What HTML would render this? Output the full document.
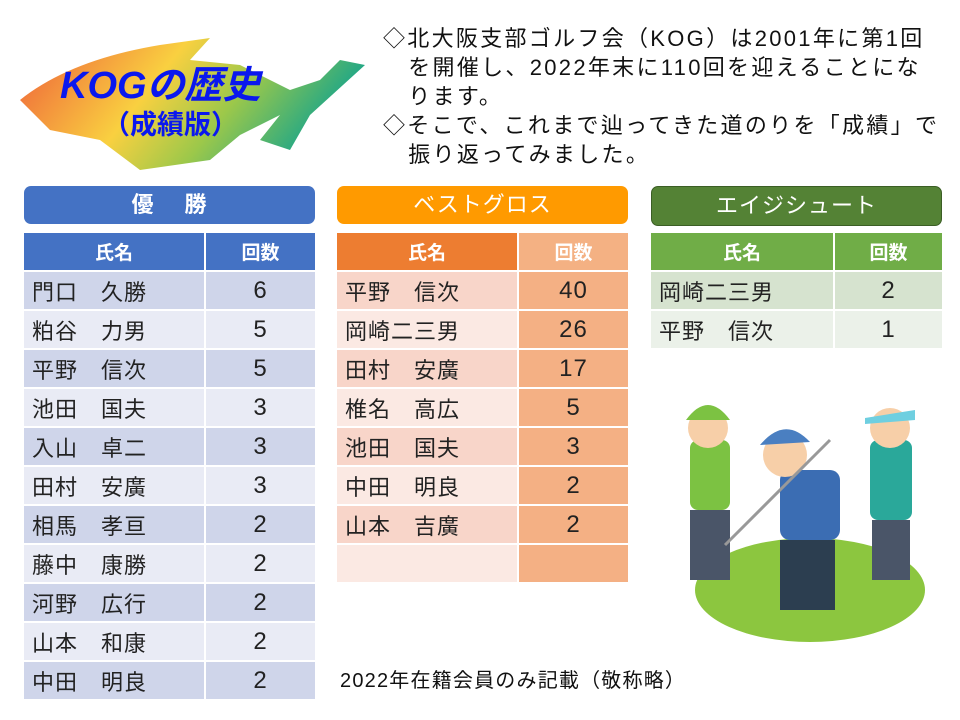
<!DOCTYPE html>
<html><head><meta charset="utf-8"><style>
body{margin:0;width:960px;height:720px;background:#fff;position:relative;overflow:hidden;font-family:"Liberation Sans","Noto Sans CJK JP",sans-serif;color:#222}
.a{position:absolute}
.cap{position:absolute;height:38px;border-radius:7px;color:#fff;font-size:22px;text-align:center;line-height:38px;font-weight:bold;letter-spacing:1px}
table{position:absolute;border-collapse:collapse}
tr{height:39px}
td{border:2px solid #fff;font-size:22px;padding:0 0 0 8px;color:#222;letter-spacing:1px}
td.n{text-align:center;padding:0;font-size:24px}
th{border:2px solid #fff;color:#fff;font-size:19px;font-weight:bold;padding:0}
.p{position:absolute;font-size:22px;line-height:29px;color:#111;letter-spacing:2.3px;white-space:nowrap}
</style></head><body>
<svg class="a" style="left:10px;top:20px" width="360" height="150">
<defs><linearGradient id="g" x1="0" y1="0" x2="1" y2="0.3"><stop offset="0" stop-color="#ee5a3a"/><stop offset="0.45" stop-color="#f9d040"/><stop offset="0.7" stop-color="#9cc84a"/><stop offset="1" stop-color="#19a58a"/></linearGradient></defs>
<path d="M10 80 Q60 40 150 25 L200 18 L180 40 L230 45 L280 70 L310 60 L330 40 L355 45 L300 95 L280 130 L250 120 L270 95 L230 115 L200 140 L130 150 L90 120 L40 110 Z" fill="url(#g)"/>
</svg>
<div class="a" style="left:60px;top:54px;font-size:38px;font-weight:bold;color:#0a18ee;font-style:italic">KOGの歴史</div>
<div class="a" style="left:103px;top:103px;font-size:27px;font-weight:bold;color:#0a18ee">（成績版）</div>
<div class="p" style="left:383px;top:24px">◇北大阪支部ゴルフ会（KOG）は2001年に第1回<br>&nbsp;&nbsp;&nbsp;を開催し、2022年末に110回を迎えることにな<br>&nbsp;&nbsp;&nbsp;ります。<br>◇そこで、これまで辿ってきた道のりを「成績」で<br>&nbsp;&nbsp;&nbsp;振り返ってみました。</div>

<div class="cap" style="left:24px;top:186px;width:291px;background:#4472c4">優　 勝</div>
<table style="left:22px;top:231px;width:295px">
<tr style="background:#4472c4"><th style="width:180px">氏名</th><th>回数</th></tr>
<tr style="background:#cfd5ea"><td>門口　久勝</td><td class="n">6</td></tr>
<tr style="background:#e9ebf5"><td>粕谷　力男</td><td class="n">5</td></tr>
<tr style="background:#cfd5ea"><td>平野　信次</td><td class="n">5</td></tr>
<tr style="background:#e9ebf5"><td>池田　国夫</td><td class="n">3</td></tr>
<tr style="background:#cfd5ea"><td>入山　卓二</td><td class="n">3</td></tr>
<tr style="background:#e9ebf5"><td>田村　安廣</td><td class="n">3</td></tr>
<tr style="background:#cfd5ea"><td>相馬　孝亘</td><td class="n">2</td></tr>
<tr style="background:#e9ebf5"><td>藤中　康勝</td><td class="n">2</td></tr>
<tr style="background:#cfd5ea"><td>河野　広行</td><td class="n">2</td></tr>
<tr style="background:#e9ebf5"><td>山本　和康</td><td class="n">2</td></tr>
<tr style="background:#cfd5ea"><td>中田　明良</td><td class="n">2</td></tr>
</table>

<div class="cap" style="left:337px;top:186px;width:291px;background:#ff9a00;font-weight:normal">ベストグロス</div>
<table style="left:335px;top:231px;width:295px">
<tr><th style="width:180px;background:#ed7d31">氏名</th><th style="background:#f4b183">回数</th></tr>
<tr><td style="background:#f8d5c9">平野　信次</td><td class="n" style="background:#f4b084">40</td></tr>
<tr><td style="background:#fbe9e3">岡崎二三男</td><td class="n" style="background:#f4b084">26</td></tr>
<tr><td style="background:#f8d5c9">田村　安廣</td><td class="n" style="background:#f4b084">17</td></tr>
<tr><td style="background:#fbe9e3">椎名　高広</td><td class="n" style="background:#f4b084">5</td></tr>
<tr><td style="background:#f8d5c9">池田　国夫</td><td class="n" style="background:#f4b084">3</td></tr>
<tr><td style="background:#fbe9e3">中田　明良</td><td class="n" style="background:#f4b084">2</td></tr>
<tr><td style="background:#f8d5c9">山本　吉廣</td><td class="n" style="background:#f4b084">2</td></tr>
<tr><td style="background:#fbe9e3"></td><td class="n" style="background:#f4b084"></td></tr>
</table>

<div class="cap" style="left:651px;top:186px;width:289px;height:38px;background:#548235;border:1px solid #3b5e25;font-weight:normal">エイジシュート</div>
<table style="left:649px;top:231px;width:295px">
<tr style="background:#70ad47"><th style="width:182px">氏名</th><th>回数</th></tr>
<tr><td style="background:#d6e3cf">岡崎二三男</td><td class="n" style="background:#d6e3cf">2</td></tr>
<tr><td style="background:#ebf1e9">平野　信次</td><td class="n" style="background:#ebf1e9">1</td></tr>
</table>

<svg class="a" style="left:660px;top:380px" width="290" height="270">
<ellipse cx="150" cy="210" rx="115" ry="52" fill="#8cc63f"/>
<rect x="30" y="60" width="40" height="70" rx="8" fill="#7cc242"/>
<rect x="30" y="130" width="40" height="70" fill="#4a5568"/>
<circle cx="48" cy="48" r="20" fill="#f7cfa8"/><path d="M26 40 Q48 10 70 40 Z" fill="#7cc242"/>
<rect x="120" y="90" width="60" height="70" rx="10" fill="#3b6db3"/>
<rect x="120" y="160" width="55" height="70" fill="#2c3e50"/>
<circle cx="125" cy="75" r="22" fill="#f7cfa8"/><path d="M100 65 Q125 35 150 62 Z" fill="#4a7fc1"/>
<line x1="170" y1="60" x2="65" y2="165" stroke="#999" stroke-width="3"/>
<rect x="210" y="60" width="42" height="80" rx="8" fill="#2aa89a"/>
<rect x="212" y="140" width="38" height="60" fill="#4a5568"/>
<circle cx="230" cy="48" r="20" fill="#f7cfa8"/><path d="M205 38 L255 30 L255 40 L205 44 Z" fill="#6fcfe0"/>
</svg>
<div class="a" style="left:340px;top:664px;font-size:20px;color:#111;letter-spacing:1.2px">2022年在籍会員のみ記載（敬称略）</div>
</body></html>
